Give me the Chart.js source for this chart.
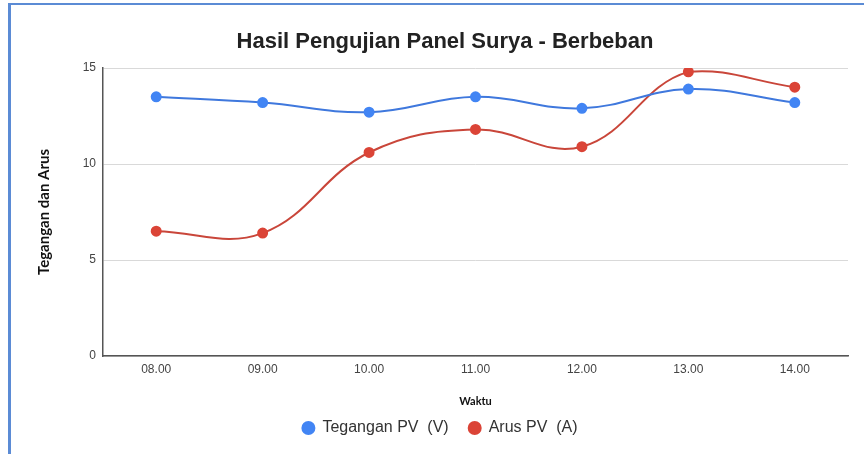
<!DOCTYPE html>
<html>
<head>
<meta charset="utf-8">
<script src="https://cdn.jsdelivr.net/npm/chart.js@4/dist/chart.umd.min.js"></script>
<style>
  html, body { margin:0; padding:0; background:#fff; }
  #wrap { position:relative; width:864px; height:454px; }
  #frame { position:absolute; left:8px; top:3px; right:0; bottom:0; border-left:3px solid #5b8bd5; border-top:2px solid #5b8bd5; pointer-events:none; }
  canvas { display:block; }
</style>
</head>
<body>
<div id="wrap">
  <canvas id="chart" width="864" height="454"></canvas>
  <div id="frame"></div>
</div>
<script>
  // data
  const waktu = ['08.00','09.00','10.00','11.00','12.00','13.00','14.00'];
  const teganganPV = [13.5, 13.2, 12.7, 13.5, 12.9, 13.9, 13.2];
  const arusPV = [6.5, 6.4, 10.6, 11.8, 10.9, 14.8, 14.0];
  const yTicks = [0, 5, 10, 15];

  const blue = '#4285f4';
  const red = '#db4437';
  const arial = 'Liberation Sans, Arial, sans-serif';

  // nudge legend + title boxes to where the reference has them
  const boxShift = {
    id: 'boxShift',
    afterLayout(chart){
      const lg = chart.legend;
      if(lg){ lg.left += 16; lg.right += 16; lg.top -= 8; lg.bottom -= 8; }
      const tb = chart.titleBlock;
      if(tb){ tb.left += 21; tb.right += 21; }
    }
  };

  const ctx = document.getElementById('chart').getContext('2d');
  new Chart(ctx, {
    type: 'line',
    data: {
      labels: waktu,
      datasets: [
        { label: 'Tegangan PV  (V)', data: teganganPV, borderColor: '#3f78dd', backgroundColor: blue, pointBackgroundColor: blue, pointBorderColor: blue, borderWidth: 2, pointRadius: 4.5, tension: 0.4 },
        { label: 'Arus PV  (A)', data: arusPV, borderColor: '#c9463a', backgroundColor: red, pointBackgroundColor: red, pointBorderColor: red, borderWidth: 2, pointRadius: 4.5, tension: 0.4 }
      ]
    },
    options: {
      responsive: false,
      animation: false,
      layout: { padding: { top: 0, left: 0, right: 16, bottom: 0 } },
      plugins: {
        title: {
          display: true,
          text: 'Hasil Pengujian Panel Surya - Berbeban',
          color: '#222',
          font: { family: arial, size: 22, weight: 'bold' },
          padding: { top: 29, bottom: 12.6 }
        },
        legend: {
          position: 'bottom',
          labels: {
            usePointStyle: true, pointStyle: 'circle', boxWidth: 12, boxHeight: 8.5,
            color: '#333', padding: 20,
            font: { family: arial, size: 16 }
          }
        },
        tooltip: { enabled: false }
      },
      scales: {
        x: {
          offset: true,
          grid: { display: false, drawTicks: false },
          border: { display: true, color: '#555', width: 1.5 },
          ticks: { color: '#444', padding: 6, font: { family: arial, size: 12 } },
          title: { display: true, text: 'Waktu', color: '#111', padding: { top: 7, bottom: 0 }, font: { family: 'Lato, sans-serif', size: 11, weight: 'bold' } },
          afterFit: (s) => { s.height = 52; }
        },
        y: {
          min: 0, max: 15,
          afterBuildTicks: (s) => { s.ticks = yTicks.map(v => ({ value: v })); },
          grid: { color: '#d9d9d9', drawTicks: false, lineWidth: 1 },
          border: { display: true, color: '#555', width: 1.5 },
          ticks: { color: '#444', padding: 7, font: { family: arial, size: 12 } },
          title: { display: true, text: 'Tegangan dan Arus', color: '#111', padding: { top: 35, bottom: 0 }, font: { family: 'Lato, sans-serif', size: 15, weight: 'bold' } },
          afterFit: (s) => { s.width = 103; }
        }
      }
    },
    plugins: [boxShift]
  });
</script>
</body>
</html>
